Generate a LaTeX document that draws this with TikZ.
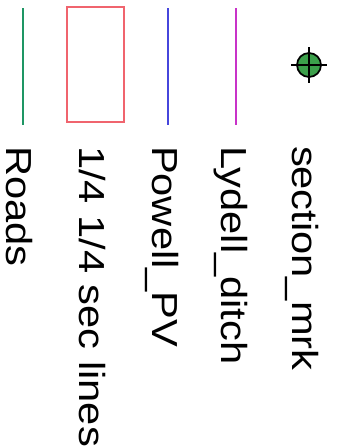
\documentclass[tikz,border=0pt]{standalone}
\usepackage{fontspec}
\setmainfont{Liberation Sans}
\usepackage{graphicx}
\definecolor{roadgreen}{RGB}{30,150,100}
\definecolor{secred}{RGB}{240,100,110}
\definecolor{pvblue}{RGB}{70,70,220}
\definecolor{ditchmag}{RGB}{200,50,200}
\definecolor{mrkgreen}{RGB}{60,160,75}
\newcommand{\lbltext}[1]{\scalebox{1}[0.87]{\fontsize{23.7}{26}\selectfont #1}}

\begin{document}
\begin{tikzpicture}[
		x=0.2mm, y=-0.2mm,
		lbl/.style={rotate=-90, anchor=base west, inner sep=0pt, outer sep=0pt},
		sym/.style={line width=1.3pt},
		mrk/.style={circle, draw=black, fill=mrkgreen, minimum size=24*0.2mm, inner sep=0pt, line width=1pt}
	]
		\useasboundingbox (0,0) rectangle (340,448);
		% symbols
		\draw[sym, draw=roadgreen] (23,8) -- (23,125);
		\draw[line width=0.9pt, draw=secred] (67,7) rectangle (124,122);
		\draw[sym, draw=pvblue] (168,8) -- (168,125);
		\draw[sym, draw=ditchmag] (236,8) -- (236,125);
		\node[mrk] (m) at (309,65) {};
		\draw[line width=1.2pt] (m.center) ++(-18,0) -- +(36,0);
		\draw[line width=1.2pt] (m.center) ++(0,-18) -- +(0,36);
		% labels
		\node[lbl] (roads) at (7,146) {\lbltext{Roads}};
		\node[lbl] (secln) at (79,146) {\lbltext{1/4 1/4 sec lines}};
		\node[lbl] (pv) at (152,146) {\lbltext{Powell\_PV}};
		\node[lbl] (ditch) at (221,146) {\lbltext{Lydell\_ditch}};
		\node[lbl] (mrk) at (292,146) {\lbltext{section\_mrk}};
	\end{tikzpicture}
\end{document}
